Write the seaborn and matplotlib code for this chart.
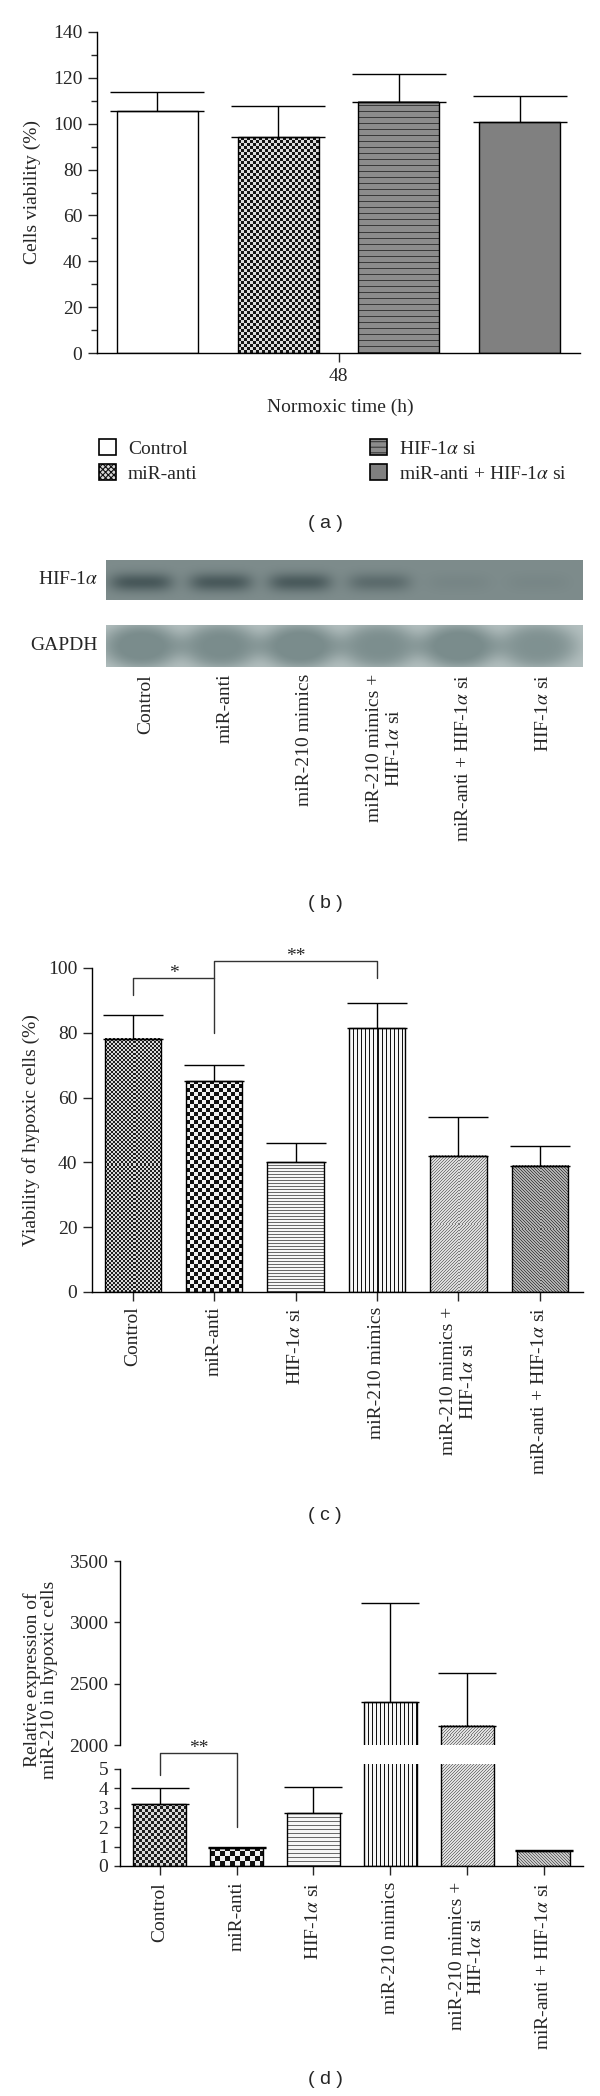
import numpy as np
import pandas as pd
import matplotlib
matplotlib.use("Agg")
import matplotlib.pyplot as plt
import seaborn as sns
from matplotlib.patches import Rectangle, Patch
from matplotlib.legend_handler import HandlerBase
from matplotlib.ticker import MultipleLocator
from matplotlib.colors import to_rgb

# ---------------- data ----------------
a_groups = ["Control", "miR-anti", "HIF-1$\\alpha$ si", "miR-anti + HIF-1$\\alpha$ si"]
a_time = "48"
a_mean = [105.5, 94.0, 109.5, 100.7]
a_err = [8.5, 13.7, 12.2, 11.3]
a_ticks = [0, 20, 40, 60, 80, 100, 120, 140]

b_lanes = ["Control", "miR-anti", "miR-210 mimics", "miR-210 mimics +\nHIF-1$\\alpha$ si",
           "miR-anti + HIF-1$\\alpha$ si", "HIF-1$\\alpha$ si"]
b_hif = [1.0, 0.97, 0.95, 0.62, 0.12, 0.10]
b_gapdh = [0.90, 0.85, 0.92, 0.80, 0.92, 0.75]

c_groups = ["Control", "miR-anti", "HIF-1$\\alpha$ si", "miR-210 mimics",
            "miR-210 mimics +\nHIF-1$\\alpha$ si", "miR-anti + HIF-1$\\alpha$ si"]
c_mean = [78.2, 65.0, 40.0, 81.4, 42.0, 39.0]
c_err = [7.4, 5.0, 6.0, 7.9, 12.0, 6.0]
c_ticks = [0, 20, 40, 60, 80, 100]

d_groups = c_groups
d_mean = [3.18, 0.92, 2.72, 2350, 2155, 0.77]
d_err = [0.82, 0.05, 1.33, 807, 432, 0.03]
d_low_ticks = [0, 1, 2, 3, 4, 5]
d_high_ticks = [2000, 2500, 3000, 3500]

# ---------------- style ----------------
sns.set_style("ticks")
plt.rcParams["font.family"] = ["Liberation Serif", "DejaVu Serif"]
plt.rcParams["mathtext.fontset"] = "stix"
plt.rcParams["hatch.linewidth"] = 0.8
FS = 14
W, H = 600, 2096
fig = plt.figure(figsize=(W / 100, H / 100), dpi=100, facecolor="white")


def axes_px(x0, y0, x1, y1):
    return fig.add_axes([x0 / W, 1 - y1 / H, (x1 - x0) / W, (y1 - y0) / H])


def style_axes(ax, left=True, bottom=True):
    for s in ["top", "right"]:
        ax.spines[s].set_visible(False)
    ax.spines["left"].set_visible(left)
    ax.spines["bottom"].set_visible(bottom)
    for s in ["left", "bottom"]:
        ax.spines[s].set_linewidth(1.0)
        ax.spines[s].set_color("black")
    ax.set_facecolor("none")
    ax.set_xlabel("")
    ax.set_ylabel("")


def add_texture(ax, patch, spec):
    kind, fg, bg, p = spec
    x0, w = patch.get_x(), patch.get_width()
    y0, h = patch.get_y(), patch.get_height()
    lo, hi = ax.get_ylim()
    ya, yb = max(y0, lo), min(y0 + h, hi)
    if yb <= ya:
        return
    q0 = ax.transData.transform((x0, ya))
    q1 = ax.transData.transform((x0 + w, yb))
    wp = max(1, int(round(abs(q1[0] - q0[0]))))
    hp = max(1, int(round(abs(q1[1] - q0[1]))))
    yy, xx = np.mgrid[0:hp, 0:wp]
    yy = yy[::-1]
    if kind == "solid":
        mask = np.zeros((hp, wp), bool)
    elif kind == "check":
        mask = ((xx // p + yy // p) % 2) == 0
    elif kind == "hline":
        mask = (yy % p) == 0
    elif kind == "vline":
        mask = (xx % p) == 0
    elif kind == "diag":
        mask = ((xx - yy) % p) == 0
    else:
        mask = ((xx + yy) % p) == 0
    img = np.where(mask[..., None], np.array(to_rgb(fg)), np.array(to_rgb(bg)))
    ax.imshow(img, extent=(x0, x0 + w, ya, yb), origin="upper", interpolation="nearest",
              aspect="auto", zorder=patch.get_zorder() - 0.05)
    patch.set_facecolor("none")


def bar_centers(ax):
    ps = sorted(ax.patches, key=lambda r: r.get_x())
    return ps, [r.get_x() + r.get_width() / 2 for r in ps]


# ================= panel (a) =================
axa = axes_px(97, 32, 580, 353)
dfa = pd.DataFrame({"time": [a_time] * len(a_groups), "group": a_groups, "val": a_mean})
sns.barplot(data=dfa, x="time", y="val", hue="group", hue_order=a_groups,
            palette={g: "white" for g in a_groups}, dodge=True, gap=0.33, errorbar=None,
            edgecolor="black", linewidth=1.0, ax=axa, legend=False)
style_axes(axa)
axa.set_xlim(-0.4, 0.4)
axa.set_ylim(0, 140)
axa.set_yticks(a_ticks)
axa.yaxis.set_minor_locator(MultipleLocator(10))
axa.set_xticks([0])
axa.set_xticklabels([a_time])
axa.tick_params(axis="both", direction="out", length=6.5, width=1.0, labelsize=FS, pad=4)
axa.tick_params(axis="y", which="minor", direction="out", length=4, width=1.0)
a_tex = [("solid", "#ffffff", "#ffffff", 1), ("check", "#151515", "#dcdcdc", 3),
         ("hline", "#3a3a3a", "#8c8c8c", 6), ("solid", "#808080", "#808080", 1)]
ps, xs = bar_centers(axa)
for p_, t_ in zip(ps, a_tex):
    add_texture(axa, p_, t_)
axa.errorbar(xs, a_mean, yerr=[np.zeros(len(a_err)), a_err], fmt="none", ecolor="black",
             elinewidth=1.0, capsize=34, capthick=1.0, zorder=3)
fig.text(32 / W, 1 - 192 / H, "Cells viability (%)", rotation=90, ha="center", va="center", fontsize=FS)
fig.text(340 / W, 1 - 407 / H, "Normoxic time (h)", ha="center", va="center", fontsize=FS)


class SwatchHandler(HandlerBase):
    def create_artists(self, legend, orig, xdescent, ydescent, width, height, fontsize, trans):
        r1 = Rectangle((-xdescent, -ydescent), width, height, facecolor=orig.get_facecolor(),
                       edgecolor=orig.get_edgecolor(), hatch=orig.get_hatch(), linewidth=0,
                       transform=trans)
        r2 = Rectangle((-xdescent, -ydescent), width, height, fill=False, edgecolor="black",
                       linewidth=1.2, transform=trans)
        return [r1, r2]


leg_handles = [Patch(facecolor="white", edgecolor="white"),
               Patch(facecolor="#d8d8d8", edgecolor="#111111", hatch="xxxxxx"),
               Patch(facecolor="#8c8c8c", edgecolor="#3a3a3a", hatch="---"),
               Patch(facecolor="#808080", edgecolor="#808080")]
fig.legend(handles=leg_handles, labels=a_groups, handler_map={Patch: SwatchHandler()}, ncol=2,
           loc="upper left", bbox_to_anchor=(99 / W, 1 - 439 / H), frameon=False, fontsize=FS,
           handlelength=0.88, handleheight=0.88, handletextpad=0.6, columnspacing=8.9,
           labelspacing=0.35, borderpad=0, borderaxespad=0)
fig.text(325 / W, 1 - 523 / H, "( a )", ha="center", va="center", fontsize=FS, family="Liberation Sans")

# ================= panel (b) =================
def blot_image(intens, w_px, h_px, kind):
    n = len(intens)
    X, Y = np.meshgrid(np.linspace(0, n, w_px), np.linspace(0, 1, h_px))
    val = np.zeros_like(X)
    for i, v in enumerate(intens):
        c = i + 0.44
        if kind == "hif":
            val += v * np.exp(-((X - c) / 0.4) ** 4) * np.exp(-((Y - 0.56) / 0.24) ** 2)
        else:
            val += v * np.exp(-(((X - c) / 0.5) ** 2 + ((Y - 0.5) / 0.55) ** 2) ** 2)
    if kind == "hif":
        bg, dk = np.array([126, 140, 140]) / 255, np.array([72, 88, 90]) / 255
        t = np.clip(val, 0, 1)
    else:
        bg, dk = np.array([238, 244, 244]) / 255, np.array([122, 140, 140]) / 255
        t = np.clip(0.5 + 0.6 * val, 0, 1)
    return bg + (dk - bg) * t[..., None]


axh = axes_px(106, 560, 583, 600)
axg = axes_px(106, 625, 583, 667)
for ax_, data_, kind_ in [(axh, b_hif, "hif"), (axg, b_gapdh, "gapdh")]:
    ax_.imshow(blot_image(data_, 477, 42, kind_), extent=(0, len(data_), 0, 1), aspect="auto",
               interpolation="bilinear")
    ax_.set_xlim(0, len(data_))
    ax_.set_ylim(0, 1)
    for s in ax_.spines.values():
        s.set_visible(False)
    ax_.set_yticks([])
    ax_.set_xticks([])
axg.set_xticks(np.arange(len(b_lanes)) + 0.5)
axg.set_xticklabels(b_lanes, rotation=90, va="top", ha="center", fontsize=FS)
axg.tick_params(axis="x", length=0, pad=5)
fig.text(98 / W, 1 - 580 / H, "HIF-1$\\alpha$", ha="right", va="center", fontsize=FS)
fig.text(98 / W, 1 - 645 / H, "GAPDH", ha="right", va="center", fontsize=FS)
fig.text(325 / W, 1 - 904 / H, "( b )", ha="center", va="center", fontsize=FS, family="Liberation Sans")

# ================= panel (c) =================
axc = axes_px(92, 968, 583, 1292)
sns.barplot(x=c_groups, y=c_mean, order=c_groups, color="white", width=0.69, errorbar=None,
            edgecolor="black", linewidth=1.0, ax=axc)
style_axes(axc)
axc.set_xlim(-0.5, 5.53)
axc.set_ylim(0, 100)
axc.set_yticks(c_ticks)
axc.set_xticks(range(len(c_groups)))
axc.set_xticklabels(c_groups, rotation=90, va="top", ha="center")
axc.tick_params(axis="both", direction="out", length=6.5, width=1.0, labelsize=FS, pad=4)
c_tex = [("check", "#1e1e1e", "#d8d8d8", 2), ("check", "#111111", "#f2f2f2", 4),
         ("hline", "#6a6a6a", "#f6f6f6", 3), ("vline", "#111111", "#f6f6f6", 4),
         ("diag", "#7a7a7a", "#dcdcdc", 3), ("adiag", "#4a4a4a", "#b0b0b0", 3)]
ps, xs = bar_centers(axc)
for p_, t_ in zip(ps, c_tex):
    add_texture(axc, p_, t_)
axc.errorbar(xs, c_mean, yerr=[np.zeros(len(c_err)), c_err], fmt="none", ecolor="black",
             elinewidth=1.0, capsize=21.5, capthick=1.0, zorder=3)
axc.plot([xs[0], xs[0], xs[1]], [91.8, 96.8, 96.8], color="#333333", lw=1.0, clip_on=False)
axc.plot([xs[1], xs[1], xs[3], xs[3]], [80, 102.3, 102.3, 96.8], color="#333333", lw=1.0, clip_on=False)
axc.text((xs[0] + xs[1]) / 2, 96.8, "*", ha="center", va="baseline", fontsize=FS)
axc.text((xs[1] + xs[3]) / 2, 102.3, "**", ha="center", va="baseline", fontsize=FS)
fig.text(31 / W, 1 - 1130 / H, "Viability of hypoxic cells (%)", rotation=90, ha="center",
         va="center", fontsize=FS)
fig.text(325 / W, 1 - 1516 / H, "( c )", ha="center", va="center", fontsize=FS, family="Liberation Sans")

# ================= panel (d) =================
axd_hi = axes_px(120, 1561, 583, 1745)
axd_lo = axes_px(120, 1764, 583, 1866)
d_tex = [("check", "#1e1e1e", "#d8d8d8", 3), ("check", "#111111", "#f2f2f2", 5),
         ("hline", "#6a6a6a", "#f6f6f6", 4), ("vline", "#111111", "#f6f6f6", 4),
         ("diag", "#7a7a7a", "#e0e0e0", 3), ("adiag", "#666666", "#c8c8c8", 3)]
for ax_, ylim_, ticks_, bottom_ in [(axd_hi, (2000, 3500), d_high_ticks, False),
                                    (axd_lo, (0, 5.25), d_low_ticks, True)]:
    sns.barplot(x=d_groups, y=d_mean, order=d_groups, color="white", width=0.69, errorbar=None,
                edgecolor="black", linewidth=1.0, ax=ax_)
    style_axes(ax_, bottom=bottom_)
    ax_.set_xlim(-0.52, 5.51)
    ax_.set_ylim(*ylim_)
    ax_.set_yticks(ticks_)
    ax_.tick_params(axis="y", direction="out", length=4.5, width=1.0, labelsize=FS, pad=4)
    ps, xs = bar_centers(ax_)
    for p_, t_ in zip(ps, d_tex):
        add_texture(ax_, p_, t_)
    ax_.errorbar(xs, d_mean, yerr=[np.zeros(len(d_err)), d_err], fmt="none", ecolor="black",
                 elinewidth=1.0, capsize=21, capthick=1.0, zorder=3)
axd_lo.spines["left"].set_bounds(0, 5)
axd_hi.set_xticks([])
axd_lo.set_xticks(range(len(d_groups)))
axd_lo.set_xticklabels(d_groups, rotation=90, va="top", ha="center")
axd_lo.tick_params(axis="x", direction="out", length=6.5, width=1.0, labelsize=FS, pad=5)
ps, xs = bar_centers(axd_lo)
axd_lo.plot([xs[0], xs[0], xs[1], xs[1]], [4.67, 5.8, 5.8, 2.0], color="#333333", lw=1.0, clip_on=False)
axd_lo.text((xs[0] + xs[1]) / 2, 5.8, "**", ha="center", va="baseline", fontsize=FS)
fig.text(41 / W, 1 - 1680 / H, "Relative expression of\nmiR-210 in hypoxic cells", rotation=90,
         ha="center", va="center", fontsize=FS, linespacing=1.0)
fig.text(325 / W, 1 - 2080 / H, "( d )", ha="center", va="center", fontsize=FS, family="Liberation Sans")

fig.savefig("out.png", dpi=100, facecolor="white")
